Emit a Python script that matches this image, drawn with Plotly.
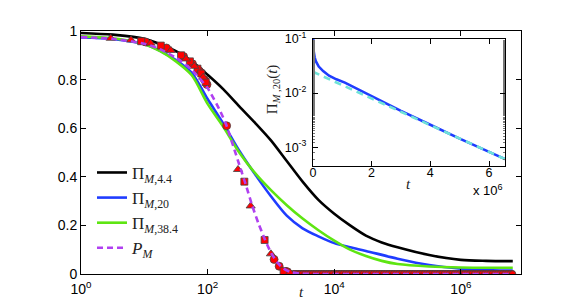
import numpy as np
import plotly.graph_objects as go

# ---------------- data (main panel, x given as log10 t) ----------------
black_logt = [0, 0.5, 1.0, 1.5, 1.75, 2.0, 2.25, 2.5, 2.75, 3.0, 3.25, 3.5, 3.75, 4.0, 4.25, 4.5, 4.75, 5.0, 5.5, 6.0, 6.4, 6.82]
black_val = [0.992, 0.985, 0.968, 0.917, 0.875, 0.82, 0.76, 0.69, 0.622, 0.55, 0.465, 0.38, 0.305, 0.248, 0.2, 0.158, 0.13, 0.11, 0.078, 0.058, 0.054, 0.053]

blue_logt = [0, 0.5, 1.0, 1.25, 1.5, 1.75, 2.0, 2.25, 2.5, 2.75, 3.0, 3.25, 3.5, 3.75, 4.0, 4.25, 4.5, 5.0, 5.5, 6.0, 6.5, 6.82]
blue_val = [0.973, 0.967, 0.945, 0.918, 0.88, 0.828, 0.72, 0.618, 0.507, 0.41, 0.32, 0.24, 0.188, 0.155, 0.127, 0.11, 0.095, 0.063, 0.037, 0.022, 0.015, 0.014]

green_logt = [0, 0.5, 1.0, 1.25, 1.5, 1.75, 2.0, 2.25, 2.5, 2.75, 3.0, 3.25, 3.5, 3.75, 4.0, 4.25, 4.5, 4.75, 5.0, 5.5, 6.0, 6.82]
green_val = [0.978, 0.97, 0.945, 0.917, 0.875, 0.818, 0.7, 0.605, 0.5, 0.415, 0.345, 0.283, 0.228, 0.18, 0.137, 0.1, 0.074, 0.054, 0.041, 0.031, 0.027, 0.026]

pm_logt = [0, 0.5, 1.0, 1.25, 1.5, 1.75, 2.0, 2.2, 2.3, 2.4, 2.5, 2.6, 2.7, 2.8, 2.9, 3.0, 3.1, 3.2, 3.3, 3.45, 3.7, 4.5, 5.5, 6.82]
pm_val = [0.975, 0.968, 0.948, 0.925, 0.89, 0.84, 0.765, 0.67, 0.61, 0.53, 0.45, 0.37, 0.285, 0.21, 0.145, 0.088, 0.048, 0.022, 0.009, 0.002, 0.0, 0.0, 0.0, 0.0]

# simulation markers (decaying part)
tri_logt = [0.47, 0.79, 1.1, 1.42, 1.66, 1.79, 1.93, 2.48, 2.68, 3.0, 3.3]
tri_val = [0.97, 0.963, 0.95, 0.92, 0.885, 0.855, 0.81, 0.43, 0.28, 0.083, 0.006]
sq_logt = [0.95, 1.26, 1.58, 1.72, 1.84, 1.9, 1.97, 2.58, 2.9, 3.2]
sq_val = [0.958, 0.94, 0.9, 0.875, 0.845, 0.825, 0.79, 0.38, 0.14, 0.012]
circ_logt = [1.02, 1.35, 1.62, 1.76, 1.87, 1.95, 1.99, 2.3, 3.05, 3.13, 3.25]
circ_val = [0.955, 0.93, 0.895, 0.865, 0.835, 0.8, 0.78, 0.61, 0.06, 0.032, 0.01]
# markers lying on zero (t sampling from ~10^3.35 up to end of the run)
zero_logt = list(np.arange(3.35, 6.83, 0.04))
zero_val = [0.0] * len(zero_logt)

# ---------------- data (inset, linear t) ----------------
inset_t = [0, 0.01e6, 0.03e6, 0.06e6, 0.1e6, 0.2e6, 0.35e6, 0.55e6, 0.8e6, 1.09e6, 1.4e6, 1.7e6, 2.0e6, 2.4e6, 3.0e6, 4.0e6, 5.0e6, 6.55e6]
inset_val = [0.15, 0.085, 0.058, 0.046, 0.039, 0.031, 0.0255, 0.021, 0.018, 0.0156, 0.0128, 0.0106, 0.0088, 0.0068, 0.0047, 0.0026, 0.00144, 0.0006]
fit_t = [0, 6.55e6]
fit_val = [0.0248, 0.0006]

x_ticks = [1, 1e2, 1e4, 1e6]
x_ticktext = ["10<sup>0</sup>", "10<sup>2</sup>", "10<sup>4</sup>", "10<sup>6</sup>"]
y_ticks = [0, 0.2, 0.4, 0.6, 0.8, 1]
y_ticktext = ["0", "0.2", "0.4", "0.6", "0.8", "1"]
ix_ticks = [0, 2e6, 4e6, 6e6]
ix_ticktext = ["0", "2", "4", "6"]
iy_ticks = [1e-3, 1e-2, 1e-1]
iy_ticktext = ["10<sup>-3</sup>", "10<sup>-2</sup>", "10<sup>-1</sup>"]

BLACK = "#000000"
BLUE = "#1f3cff"
GREEN = "#5ee512"
PURPLE = "#b040f0"
CYAN = "#6fe3d8"

def tpow(lst):
    return [10 ** v for v in lst]

fig = go.Figure()
sp = dict(shape="spline", smoothing=0.8)
fig.add_trace(go.Scatter(x=tpow(black_logt), y=black_val, mode="lines", line=dict(color=BLACK, width=2.6, **sp),
                         name="Π<sub><i>M</i>,4.4</sub>"))
fig.add_trace(go.Scatter(x=tpow(blue_logt), y=blue_val, mode="lines", line=dict(color=BLUE, width=2.6, **sp),
                         name="Π<sub><i>M</i>,20</sub>"))
fig.add_trace(go.Scatter(x=tpow(green_logt), y=green_val, mode="lines", line=dict(color=GREEN, width=2.6, **sp),
                         name="Π<sub><i>M</i>,38.4</sub>"))

mk = dict(color="#ff0000", line=dict(color="#444444", width=0.8))
fig.add_trace(go.Scatter(x=tpow(zero_logt), y=zero_val, mode="markers", showlegend=False,
                         marker=dict(symbol="square", size=6.5, **mk)))
fig.add_trace(go.Scatter(x=tpow([v + 0.013 for v in zero_logt]), y=zero_val, mode="markers", showlegend=False,
                         marker=dict(symbol="triangle-up", size=7, **mk)))
fig.add_trace(go.Scatter(x=tpow([v + 0.027 for v in zero_logt]), y=zero_val, mode="markers", showlegend=False,
                         marker=dict(symbol="circle", size=6.5, **mk)))
fig.add_trace(go.Scatter(x=tpow(circ_logt), y=circ_val, mode="markers", showlegend=False,
                         marker=dict(symbol="circle", size=8, **mk)))
fig.add_trace(go.Scatter(x=tpow(sq_logt), y=sq_val, mode="markers", showlegend=False,
                         marker=dict(symbol="square", size=7, **mk)))
fig.add_trace(go.Scatter(x=tpow(tri_logt), y=tri_val, mode="markers", showlegend=False,
                         marker=dict(symbol="triangle-up", size=8, **mk)))

fig.add_trace(go.Scatter(x=tpow(pm_logt), y=pm_val, mode="lines",
                         line=dict(color=PURPLE, width=2.6, dash="6px,4px", shape="spline", smoothing=0.5),
                         name="<i>P<sub>M</sub></i>"))

# inset
fig.add_trace(go.Scatter(x=inset_t, y=inset_val, mode="lines", xaxis="x2", yaxis="y2", showlegend=False,
                         line=dict(color=BLUE, width=2.6)))
fig.add_trace(go.Scatter(x=fit_t, y=fit_val, mode="lines", xaxis="x2", yaxis="y2", showlegend=False,
                         line=dict(color=CYAN, width=2.6, dash="7px,5px")))

tickfont = dict(family="Liberation Sans, Arial, sans-serif", size=14, color="#000")
itickfont = dict(family="Liberation Sans, Arial, sans-serif", size=12.5, color="#000")
axis_common = dict(showline=True, linecolor="#000", linewidth=1, mirror="ticks", ticks="inside",
                   ticklen=5, tickcolor="#000", showgrid=False, zeroline=False)

fig.update_layout(
    width=567, height=300,
    margin=dict(l=73, r=54, t=23, b=34),
    paper_bgcolor="white", plot_bgcolor="white",
    xaxis=dict(type="log", range=[0, 6.95], tickvals=x_ticks, ticktext=x_ticktext, tickfont=tickfont,
               ticklabelstandoff=2, **axis_common),
    yaxis=dict(range=[0, 1], tickvals=y_ticks, ticktext=y_ticktext, tickfont=tickfont, **axis_common),
    xaxis2=dict(domain=[0.527, 0.964], anchor="y2", range=[0, 6.55e6], tickvals=ix_ticks,
                ticktext=ix_ticktext, tickfont=itickfont, ticklabelstandoff=-5, **axis_common),
    yaxis2=dict(domain=[0.444, 0.967], anchor="x2", type="log", range=[-3.35, -1], tickvals=iy_ticks,
                ticktext=iy_ticktext, tickfont=itickfont, ticklabelstandoff=3,
                minor=dict(ticks="inside", ticklen=2, tickcolor="#777"), **axis_common),
    legend=dict(x=0.025, y=0.49, xanchor="left", yanchor="top", bgcolor="rgba(0,0,0,0)",
                font=dict(family="Liberation Serif, Times New Roman, serif", size=17, color="#222"),
                tracegroupgap=0, itemwidth=30),
    showlegend=True,
    annotations=[
        dict(text="<i>t</i>", x=0.5, y=0, xref="paper", yref="paper", yshift=-28, showarrow=False,
             font=dict(family="Liberation Serif, serif", size=15, color="#222")),
        dict(text="<i>t</i>", x=0.745, y=0.37, xref="paper", yref="paper", showarrow=False,
             xanchor="center", yanchor="middle",
             font=dict(family="Liberation Serif, serif", size=15, color="#222")),
        dict(text="x 10<sup>6</sup>", x=0.964, y=0.345, xref="paper", yref="paper", xanchor="right",
             yanchor="middle", showarrow=False,
             font=dict(family="Liberation Sans, Arial, sans-serif", size=13, color="#000")),
        dict(text="Π<sub><i>M</i> ,20</sub>(<i>t</i>)", x=0.436, y=0.76, xref="paper", yref="paper",
             textangle=-90, showarrow=False, xanchor="center", yanchor="middle",
             font=dict(family="Liberation Serif, serif", size=15, color="#222")),
    ],
)

fig.write_html("out.html")
